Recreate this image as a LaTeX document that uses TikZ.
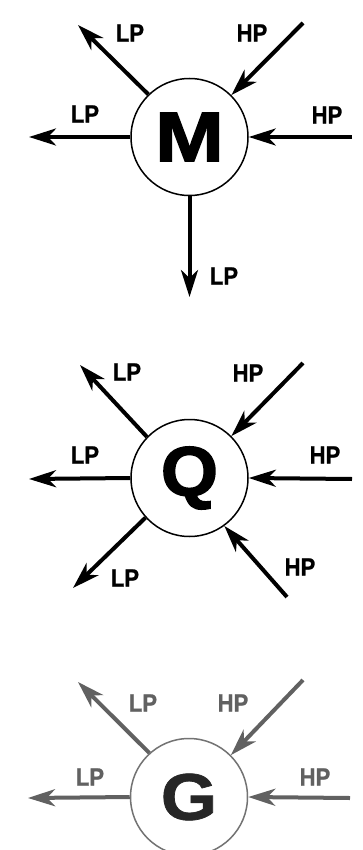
\documentclass[tikz,border=0pt]{standalone}
\usepackage{fontspec}
\setmainfont{Liberation Sans}
\newfontfamily\heavyfont{Liberation Sans Bold}[FakeBold=2]
\newfontfamily\semifont{Liberation Sans Bold}[FakeBold=1]
\usetikzlibrary{arrows.meta}
\newcommand{\flowlab}[1]{\scalebox{0.88}[1]{\semifont\fontsize{25}{25}\selectfont #1}}
\newcommand{\hubletter}[2][1.18]{\scalebox{#1}[1]{\heavyfont\fontsize{70}{70}\selectfont #2}}
\tikzset{
  hub/.style={circle, draw, line width=1.5pt, minimum size=117pt, inner sep=0pt, fill=white},
  flow/.style={line width=4pt, -{Stealth[length=27pt,width=17pt,inset=8pt]}},
  lbl/.style={inner sep=0pt},
  faded/.style={draw=black!55, text=black!85},
  fadedflow/.style={flow, draw=black!62},
  fadedlbl/.style={lbl, text=black!62}
}
\begin{document}
\begin{tikzpicture}[x=1pt,y=-1pt]
\useasboundingbox (0,0) rectangle (362,850);
\clip (0,0) rectangle (362,850);
\fill[white] (0,0) rectangle (362,850);

% ---------- M ----------
\node[hub] (M) at (189.5,137) {\hubletter{M}};
\coordinate (m1) at (78,25);
\coordinate (m2) at (29,137);
\coordinate (m3) at (303,23);
\coordinate (m4) at (352,137);
\coordinate (m5) at (189.5,297);
\draw[flow] (M.134) -- (m1);
\draw[flow] (M.west) -- (m2);
\draw[flow] (m3) -- (M.45);
\draw[flow] (m4) -- (M.east);
\draw[flow] (M.south) -- (m5);
\node[lbl] (mlp1) at (130,33) {\flowlab{LP}};
\node[lbl] (mlp2) at (85,114) {\flowlab{LP}};
\node[lbl] (mhp1) at (252,33) {\flowlab{HP}};
\node[lbl] (mhp2) at (327,115) {\flowlab{HP}};
\node[lbl] (mlp3) at (224,276) {\flowlab{LP}};

% ---------- Q ----------
\node[hub] (Q) at (189.5,478) {\hubletter[1.05]{Q}};
\coordinate (q1) at (80,365);
\coordinate (q2) at (29,479);
\coordinate (q3) at (303,363);
\coordinate (q4) at (352,479);
\coordinate (q5) at (73,588);
\coordinate (q6) at (287,597);
\draw[flow] (Q.136) -- (q1);
\draw[flow] (Q.west) -- (q2);
\draw[flow] (q3) -- (Q.45);
\draw[flow] (q4) -- (Q.east);
\draw[flow] (Q.222) -- (q5);
\draw[flow] (q6) -- (Q.306);
\node[lbl] (qlp1) at (127,372) {\flowlab{LP}};
\node[lbl] (qlp2) at (85,455) {\flowlab{LP}};
\node[lbl] (qhp1) at (248,373) {\flowlab{HP}};
\node[lbl] (qhp2) at (325,455) {\flowlab{HP}};
\node[lbl] (qlp3) at (125,578) {\flowlab{LP}};
\node[lbl] (qhp3) at (300,567) {\flowlab{HP}};

% ---------- G ----------
\node[hub, faded] (G) at (189,797) {\scalebox{1.1}[1]{\semifont\fontsize{66}{66}\selectfont G}};
\coordinate (g1) at (78,682);
\coordinate (g2) at (28,798);
\coordinate (g3) at (303,680);
\coordinate (g4) at (350,798);
\draw[fadedflow] (G.132) -- (g1);
\draw[fadedflow] (G.west) -- (g2);
\draw[fadedflow] (g3) -- (G.45);
\draw[fadedflow] (g4) -- (G.east);
\node[fadedlbl] (glp1) at (143,703) {\flowlab{LP}};
\node[fadedlbl] (glp2) at (90,777) {\flowlab{LP}};
\node[fadedlbl] (ghp1) at (233,703) {\flowlab{HP}};
\node[fadedlbl] (ghp2) at (315,777) {\flowlab{HP}};
\end{tikzpicture}
\end{document}
